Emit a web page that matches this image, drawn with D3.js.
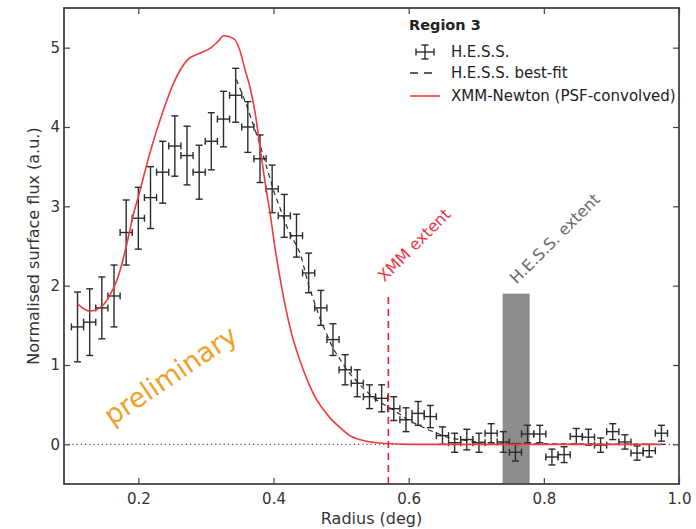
<!DOCTYPE html>
<html>
<head>
<meta charset="utf-8">
<script src="https://cdn.jsdelivr.net/npm/d3@7"></script>
<style>
  body { margin: 0; background: #fff; }
  svg { display: block; font-family: "DejaVu Sans", sans-serif; }
</style>
</head>
<body>
<div id="chart"></div>
<script>
// H.E.S.S. radial profile, region 3
const radius = [0.110, 0.128, 0.146, 0.164, 0.182, 0.200, 0.218, 0.236, 0.254, 0.272,
  0.290, 0.308, 0.326, 0.344, 0.362, 0.380, 0.398, 0.416, 0.434, 0.452,
  0.470, 0.488, 0.506, 0.524, 0.542, 0.560, 0.578, 0.596, 0.614, 0.632,
  0.650, 0.668, 0.686, 0.704, 0.722, 0.740, 0.758, 0.776, 0.794, 0.812,
  0.830, 0.848, 0.866, 0.884, 0.902, 0.920, 0.938, 0.956, 0.974];
const flux = [1.48, 1.54, 1.72, 1.87, 2.67, 2.85, 3.11, 3.43, 3.76, 3.64,
  3.43, 3.82, 4.10, 4.40, 4.00, 3.60, 3.22, 2.88, 2.63, 2.16,
  1.72, 1.32, 0.94, 0.77, 0.60, 0.58, 0.45, 0.31, 0.39, 0.35,
  0.11, 0.02, 0.06, 0.02, 0.14, 0.03, -0.10, 0.13, 0.13, -0.16,
  -0.13, 0.10, 0.09, -0.01, 0.16, 0.03, -0.11, -0.08, 0.14];
const fluxErr = [0.44, 0.42, 0.39, 0.39, 0.41, 0.39, 0.39, 0.39, 0.38, 0.37,
  0.34, 0.36, 0.35, 0.34, 0.32, 0.30, 0.30, 0.27, 0.27, 0.25,
  0.22, 0.20, 0.19, 0.17, 0.15, 0.17, 0.15, 0.15, 0.15, 0.14,
  0.11, 0.12, 0.13, 0.12, 0.12, 0.13, 0.11, 0.11, 0.11, 0.10,
  0.10, 0.10, 0.10, 0.09, 0.10, 0.09, 0.09, 0.08, 0.10];
const binHalf = 0.009;

// best-fit model
const fitR = [0.345, 0.360, 0.380, 0.400, 0.420, 0.440, 0.452, 0.470, 0.488, 0.510,
  0.530, 0.550, 0.580, 0.600, 0.630, 0.660, 0.700, 0.750, 0.980];
const fitV = [4.60, 4.28, 3.78, 3.20, 2.74, 2.40, 2.00, 1.56, 1.21, 0.92,
  0.73, 0.57, 0.42, 0.30, 0.18, 0.08, 0.03, 0.01, 0.0];

// XMM-Newton (PSF-convolved)
const xmmR = [0.110, 0.128, 0.146, 0.158, 0.170, 0.182, 0.193, 0.200, 0.217, 0.237,
  0.252, 0.272, 0.291, 0.306, 0.318, 0.326, 0.334, 0.343, 0.350, 0.358,
  0.365, 0.373, 0.380, 0.387, 0.395, 0.402, 0.410, 0.418, 0.426, 0.439,
  0.459, 0.483, 0.500, 0.513, 0.538, 0.567, 0.600, 0.975];
const xmmV = [1.77, 1.68, 1.74, 1.88, 2.11, 2.49, 2.91, 3.12, 3.67, 4.21,
  4.55, 4.84, 4.93, 4.99, 5.08, 5.15, 5.14, 5.10, 4.97, 4.72,
  4.51, 4.17, 3.75, 3.33, 2.91, 2.49, 2.08, 1.72, 1.42, 1.06,
  0.64, 0.34, 0.20, 0.11, 0.04, 0.01, 0.0, 0.0];

const xmmExtent = 0.57;
const hessExtent = [0.739, 0.779];
const extentTop = 1.9;

const xTicks = [0.2, 0.4, 0.6, 0.8, 1.0];
const yTicks = [0, 1, 2, 3, 4, 5];

const W = 696, H = 529;
const plotL = 64, plotR = 679, plotT = 8, plotB = 484;

const svg = d3.select("#chart").append("svg")
  .attr("width", W).attr("height", H);

const x = d3.scaleLinear().domain([0.09, 1.0]).range([plotL, plotR]);
const y = d3.scaleLinear().domain([-0.5, 5.5]).range([plotB, plotT]);

const red = "#ee3b3b";
const ink = "#2b2b2b";

// H.E.S.S. extent band
svg.append("rect")
  .attr("x", x(hessExtent[0]))
  .attr("width", x(hessExtent[1]) - x(hessExtent[0]))
  .attr("y", y(extentTop))
  .attr("height", y(-0.5) - y(extentTop))
  .attr("fill", "#8c8c8c");

// zero line
svg.append("line")
  .attr("x1", plotL).attr("x2", plotR)
  .attr("y1", y(0)).attr("y2", y(0))
  .attr("stroke", "#555").attr("stroke-width", 1.2)
  .attr("stroke-dasharray", "1.2,3");

// error bars
const pts = radius.map((r, i) => ({ r, v: flux[i], e: fluxErr[i] }));
const eb = svg.append("g").attr("stroke", ink).attr("stroke-width", 1.4).attr("fill", "none");
const cap = 3.5;
pts.forEach(d => {
  const cx = x(d.r), cy = y(d.v);
  const y0 = y(d.v - d.e), y1 = y(d.v + d.e);
  const x0 = x(d.r - binHalf), x1 = x(d.r + binHalf);
  eb.append("line").attr("x1", cx).attr("x2", cx).attr("y1", y0).attr("y2", y1);
  eb.append("line").attr("x1", x0).attr("x2", x1).attr("y1", cy).attr("y2", cy);
  eb.append("line").attr("x1", cx - cap).attr("x2", cx + cap).attr("y1", y0).attr("y2", y0);
  eb.append("line").attr("x1", cx - cap).attr("x2", cx + cap).attr("y1", y1).attr("y2", y1);
  eb.append("line").attr("x1", x0).attr("x2", x0).attr("y1", cy - cap).attr("y2", cy + cap);
  eb.append("line").attr("x1", x1).attr("x2", x1).attr("y1", cy - cap).attr("y2", cy + cap);
});

const line = d3.line().x(d => x(d[0])).y(d => y(d[1]));

// best-fit
svg.append("path")
  .attr("d", line(fitR.map((r, i) => [r, fitV[i]])))
  .attr("fill", "none").attr("stroke", ink).attr("stroke-width", 1.2)
  .attr("stroke-dasharray", "5,4");

// XMM curve
svg.append("path")
  .attr("d", line.curve(d3.curveMonotoneX)(xmmR.map((r, i) => [r, xmmV[i]])))
  .attr("fill", "none").attr("stroke", red).attr("stroke-width", 1.6);

// XMM extent
svg.append("line")
  .attr("x1", x(xmmExtent)).attr("x2", x(xmmExtent))
  .attr("y1", y(-0.5)).attr("y2", y(extentTop))
  .attr("stroke", "#e02040").attr("stroke-width", 1.6)
  .attr("stroke-dasharray", "7,5");

svg.append("text")
  .attr("transform", `translate(${x(xmmExtent) - 4},${y(extentTop) - 11}) rotate(-45)`)
  .attr("fill", "#ee3344").attr("font-size", 16)
  .text("XMM extent");

svg.append("text")
  .attr("transform", `translate(${x(hessExtent[0]) + 14},${y(extentTop) - 9}) rotate(-45)`)
  .attr("fill", "#6a6a6a").attr("font-size", 16)
  .text("H.E.S.S. extent");

// preliminary
svg.append("text")
  .attr("transform", "translate(112,426) rotate(-34)")
  .attr("fill", "#f2a02a").attr("font-size", 27)
  .text("preliminary");

// axes (ticks inward on all sides)
const ax = svg.append("g").attr("color", "#444");
ax.append("g").attr("transform", `translate(0,${plotB})`)
  .call(d3.axisBottom(x).tickValues(xTicks).tickFormat(d3.format(".1f"))
    .tickSizeInner(-6).tickSizeOuter(0).tickPadding(9));
ax.append("g").attr("transform", `translate(0,${plotT})`)
  .call(d3.axisTop(x).tickValues(xTicks).tickFormat("").tickSizeInner(-6).tickSizeOuter(0));
ax.append("g").attr("transform", `translate(${plotL},0)`)
  .call(d3.axisLeft(y).tickValues(yTicks).tickFormat(d3.format("d"))
    .tickSizeInner(-6).tickSizeOuter(0).tickPadding(4));
ax.append("g").attr("transform", `translate(${plotR},0)`)
  .call(d3.axisRight(y).tickValues(yTicks).tickFormat("").tickSizeInner(-6).tickSizeOuter(0));
ax.selectAll(".domain").remove();
ax.selectAll("g").attr("font-size", 15).attr("font-family", "DejaVu Sans");
ax.selectAll(".tick line").attr("stroke-width", 1.2);
ax.selectAll(".tick text").attr("fill", "#333");

svg.append("rect")
  .attr("x", plotL).attr("y", plotT)
  .attr("width", plotR - plotL).attr("height", plotB - plotT)
  .attr("fill", "none").attr("stroke", "#444").attr("stroke-width", 1.8);

// axis labels
svg.append("text")
  .attr("x", (plotL + plotR) / 2).attr("y", 524)
  .attr("text-anchor", "middle").attr("font-size", 16).attr("fill", "#333")
  .text("Radius (deg)");
svg.append("text")
  .attr("transform", `translate(39,${(plotT + plotB) / 2}) rotate(-90)`)
  .attr("text-anchor", "middle").attr("font-size", 16).attr("fill", "#333")
  .text("Normalised surface flux (a.u.)");

// legend
const lg = svg.append("g").attr("font-size", 15).attr("fill", "#222");
lg.append("text").attr("x", 409).attr("y", 30)
  .attr("font-weight", "bold").attr("font-size", 14.5).text("Region 3");
const legendRows = ["H.E.S.S.", "H.E.S.S. best-fit", "XMM-Newton (PSF-convolved)"];
const rowY = [52, 73, 96];
legendRows.forEach((t, i) => {
  lg.append("text").attr("x", 451).attr("y", rowY[i]).attr("dy", "0.35em").text(t);
});
const li = lg.append("g").attr("stroke", ink).attr("stroke-width", 1.4);
li.append("line").attr("x1", 425).attr("x2", 425).attr("y1", rowY[0] - 7).attr("y2", rowY[0] + 7);
li.append("line").attr("x1", 416).attr("x2", 434).attr("y1", rowY[0]).attr("y2", rowY[0]);
li.append("line").attr("x1", 421.5).attr("x2", 428.5).attr("y1", rowY[0] - 7).attr("y2", rowY[0] - 7);
li.append("line").attr("x1", 421.5).attr("x2", 428.5).attr("y1", rowY[0] + 7).attr("y2", rowY[0] + 7);
li.append("line").attr("x1", 416).attr("x2", 416).attr("y1", rowY[0] - 3.5).attr("y2", rowY[0] + 3.5);
li.append("line").attr("x1", 434).attr("x2", 434).attr("y1", rowY[0] - 3.5).attr("y2", rowY[0] + 3.5);
lg.append("line").attr("x1", 410).attr("x2", 438).attr("y1", rowY[1]).attr("y2", rowY[1])
  .attr("stroke", ink).attr("stroke-width", 1.4).attr("stroke-dasharray", "8,6");
lg.append("line").attr("x1", 410).attr("x2", 440).attr("y1", rowY[2]).attr("y2", rowY[2])
  .attr("stroke", red).attr("stroke-width", 1.6);
</script>
</body>
</html>
